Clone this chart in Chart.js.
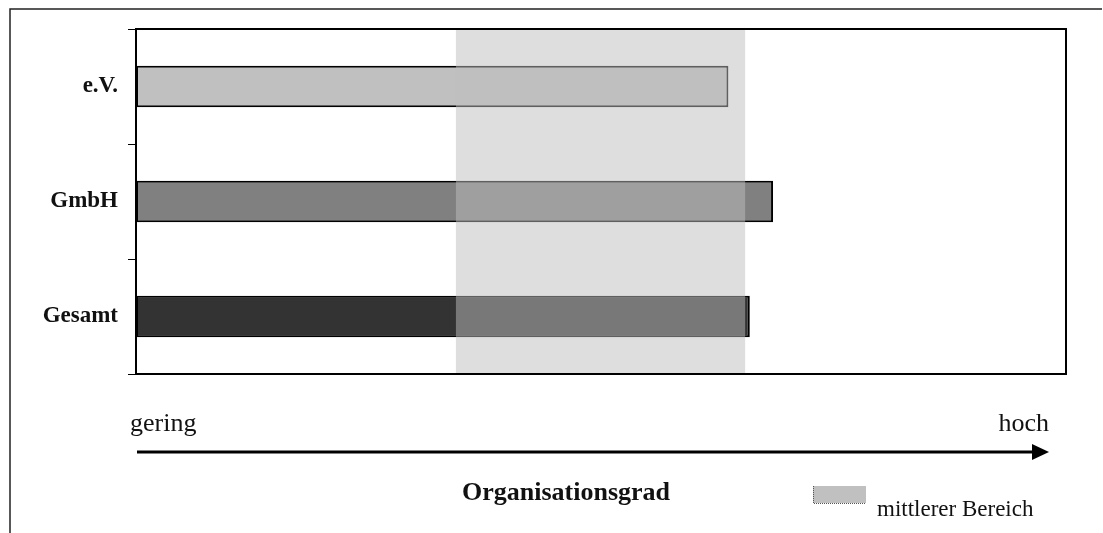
<!DOCTYPE html>
<html>
<head>
<meta charset="utf-8">
<script src="https://cdn.jsdelivr.net/npm/chart.js@4/dist/chart.umd.min.js"></script>
<style>
  html, body { margin: 0; padding: 0; background: #fff; }
  #wrap { width: 1103px; height: 533px; position: relative; }
</style>
</head>
<body>
<div id="wrap"><canvas id="c" width="1103" height="533"></canvas></div>
<script>
// Legal forms and their degree of organisation (0 = gering, 100 = hoch)
const categories = ['e.V.', 'GmbH', 'Gesamt'];
const values = [63.7, 68.5, 66.0];
const barColors = ['#c0c0c0', '#808080', '#333333'];
// Middle range shown as a translucent band
const bandRange = [34.4, 65.5];
const scaleLabels = ['gering', 'hoch'];
const axisTitle = 'Organisationsgrad';
const bandLabel = 'mittlerer Bereich';

const serif = '"Liberation Serif", "Times New Roman", serif';

const decor = {
  id: 'decor',
  beforeDraw(chart) {
    const ctx = chart.ctx;
    ctx.save();
    ctx.fillStyle = '#fff';
    ctx.fillRect(0, 0, chart.width, chart.height);
    // outer frame: top and left edges
    ctx.strokeStyle = '#222';
    ctx.lineWidth = 1.5;
    ctx.beginPath();
    ctx.moveTo(10, 533);
    ctx.lineTo(10, 9);
    ctx.lineTo(1102, 9);
    ctx.stroke();
    ctx.restore();
  },
  afterDatasetsDraw(chart) {
    const ctx = chart.ctx;
    const a = chart.chartArea;
    const x = chart.scales.x;
    const x0 = x.getPixelForValue(bandRange[0]);
    const x1 = x.getPixelForValue(bandRange[1]);
    ctx.save();
    // translucent middle band over the bars
    ctx.fillStyle = 'rgba(190,190,190,0.5)';
    ctx.fillRect(x0, a.top, x1 - x0, a.bottom - a.top);
    // plot frame
    ctx.strokeStyle = '#000';
    ctx.lineWidth = 2;
    ctx.strokeRect(a.left, a.top, a.right - a.left, a.bottom - a.top);

    // low / high labels
    ctx.fillStyle = '#111';
    ctx.font = '26px ' + serif;
    ctx.textBaseline = 'alphabetic';
    ctx.textAlign = 'left';
    ctx.fillText(scaleLabels[0], 130, 431);
    ctx.textAlign = 'right';
    ctx.fillText(scaleLabels[1], 1049, 431);

    // direction arrow
    ctx.strokeStyle = '#000';
    ctx.lineWidth = 3;
    ctx.beginPath();
    ctx.moveTo(137, 452);
    ctx.lineTo(1036, 452);
    ctx.stroke();
    ctx.fillStyle = '#000';
    ctx.beginPath();
    ctx.moveTo(1049, 452);
    ctx.lineTo(1032, 444);
    ctx.lineTo(1032, 460);
    ctx.closePath();
    ctx.fill();

    // axis title
    ctx.fillStyle = '#111';
    ctx.font = 'bold 26px ' + serif;
    ctx.textAlign = 'center';
    ctx.fillText(axisTitle, 566, 500);

    // legend swatch for the band
    ctx.fillStyle = '#c0c0c0';
    ctx.fillRect(813, 486, 53, 17);
    ctx.strokeStyle = '#555';
    ctx.lineWidth = 1;
    ctx.setLineDash([1, 1]);
    ctx.beginPath();
    ctx.moveTo(813.5, 486);
    ctx.lineTo(813.5, 503.5);
    ctx.lineTo(866, 503.5);
    ctx.stroke();
    ctx.setLineDash([]);
    ctx.fillStyle = '#111';
    ctx.font = '23px ' + serif;
    ctx.textAlign = 'left';
    ctx.fillText(bandLabel, 877, 516);
    ctx.restore();
  }
};

new Chart(document.getElementById('c'), {
  type: 'bar',
  data: {
    labels: categories,
    datasets: [{
      data: values,
      backgroundColor: barColors,
      borderColor: '#000',
      borderWidth: 2,
      borderSkipped: false,
      categoryPercentage: 1,
      barPercentage: 0.36
    }]
  },
  options: {
    indexAxis: 'y',
    responsive: false,
    animation: false,
    events: [],
    layout: { padding: { left: 0, top: 29, right: 37, bottom: 159 } },
    plugins: {
      legend: { display: false },
      tooltip: { enabled: false },
      title: { display: false }
    },
    scales: {
      x: {
        display: false,
        min: 0,
        max: 100
      },
      y: {
        offset: true,
        afterFit(s) { s.width = 136; },
        border: { display: true, color: '#000', width: 2 },
        grid: {
          offset: true,
          drawOnChartArea: false,
          drawTicks: true,
          tickLength: 8,
          color: '#000',
          lineWidth: 1
        },
        ticks: {
          color: '#111',
          padding: 10,
          font: { family: serif, size: 23, weight: 'bold' }
        }
      }
    }
  },
  plugins: [decor]
});
</script>
</body>
</html>
